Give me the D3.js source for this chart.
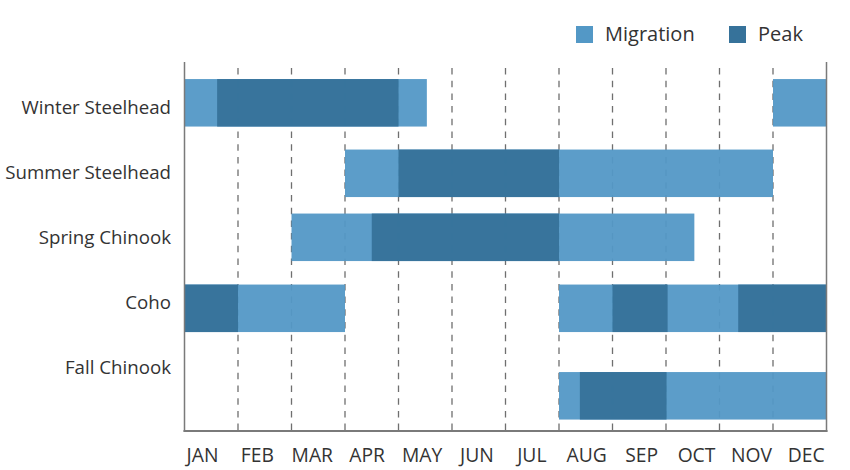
<!DOCTYPE html>
<html>
<head>
<meta charset="utf-8">
<script src="https://cdn.jsdelivr.net/npm/d3@7"></script>
<style>
  html, body { margin: 0; padding: 0; background: #fff; }
  svg { display: block; font-family: "Open Sans", "Noto Sans", sans-serif; }
</style>
</head>
<body>
<svg id="chart" width="850" height="470"></svg>
<script>
// ---- Data ----
const species = ["Winter Steelhead", "Summer Steelhead", "Spring Chinook", "Coho", "Fall Chinook"];
const monthLabels = ["JAN", "FEB", "MAR", "APR", "MAY", "JUN", "JUL", "AUG", "SEP", "OCT", "NOV", "DEC"];
const seriesNames = ["Migration", "Peak"];
// spans in months (0 = start of January, 12 = end of December)
const migrationSpans = [
  ["Winter Steelhead", 0, 4.53], ["Winter Steelhead", 11, 12],
  ["Summer Steelhead", 3, 11],
  ["Spring Chinook", 2, 9.53],
  ["Coho", 0, 3], ["Coho", 7, 12],
  ["Fall Chinook", 7, 12]
];
const peakSpans = [
  ["Winter Steelhead", 0.61, 4],
  ["Summer Steelhead", 4, 7],
  ["Spring Chinook", 3.5, 7],
  ["Coho", 0, 1], ["Coho", 8, 9.03], ["Coho", 10.35, 12],
  ["Fall Chinook", 7.39, 9.01]
];

// ---- Layout / style ----
const colors = { Migration: "#5398c6", Peak: "#36729a" };
const plotLeft = 184.5, plotRight = 826.5, plotTop = 62, plotBottom = 431;
const barH = 47.5;
const barNudge = { "Winter Steelhead": -4.5, "Summer Steelhead": 1, "Spring Chinook": 0, "Coho": 6, "Fall Chinook": 28.5 };

const svg = d3.select("#chart");

const x = d3.scaleLinear().domain([0, 12]).range([plotLeft, plotRight]);
const yLabel = d3.scalePoint().domain(species).range([107.3, 367.3]);
const xLabel = d3.scalePoint().domain(monthLabels).range([202.5, 806.3]);

// gridlines (behind bars)
svg.append("g").selectAll("line")
  .data(d3.range(1, 12))
  .join("line")
  .attr("x1", d => x(d)).attr("x2", d => x(d))
  .attr("y1", 68).attr("y2", plotBottom)
  .attr("stroke", "#6f6f6f")
  .attr("stroke-width", 1.3)
  .attr("stroke-dasharray", "6.5,6.2");

function drawSpans(spans, color) {
  svg.append("g").selectAll("rect")
    .data(spans)
    .join("rect")
    .attr("x", d => x(d[1]))
    .attr("width", d => x(d[2]) - x(d[1]))
    .attr("y", d => yLabel(d[0]) + barNudge[d[0]] - barH / 2)
    .attr("height", barH)
    .attr("fill", color)
    .attr("fill-opacity", 0.95);
}
drawSpans(migrationSpans, colors.Migration);
drawSpans(peakSpans, colors.Peak);

// axes frame
const axisColor = "#7a7a7a";
svg.append("line").attr("x1", plotLeft).attr("x2", plotLeft).attr("y1", plotTop).attr("y2", plotBottom + 1)
  .attr("stroke", axisColor).attr("stroke-width", 1.5);
svg.append("line").attr("x1", plotRight).attr("x2", plotRight).attr("y1", plotTop).attr("y2", plotBottom + 1)
  .attr("stroke", axisColor).attr("stroke-width", 1.5);
svg.append("line").attr("x1", plotLeft - 1).attr("x2", plotRight + 1).attr("y1", plotBottom).attr("y2", plotBottom)
  .attr("stroke", axisColor).attr("stroke-width", 1.8);

// category labels
svg.append("g").selectAll("text")
  .data(species)
  .join("text")
  .attr("x", 171)
  .attr("y", d => yLabel(d))
  .attr("dy", "0.35em")
  .attr("text-anchor", "end")
  .attr("font-size", 18.7)
  .attr("fill", "#333")
  .text(d => d);

// month labels
svg.append("g").selectAll("text")
  .data(monthLabels)
  .join("text")
  .attr("x", d => xLabel(d))
  .attr("y", 462.3)
  .attr("text-anchor", "middle")
  .attr("font-size", 19.3)
  .attr("fill", "#333")
  .text(d => d);

// legend
const legendX = [576, 729];
const lg = svg.append("g").selectAll("g")
  .data(seriesNames)
  .join("g")
  .attr("transform", (d, i) => `translate(${legendX[i]},26)`);
lg.append("rect").attr("width", 17).attr("height", 17).attr("fill", d => colors[d]);
lg.append("text").attr("x", 29).attr("y", 14.7)
  .attr("font-size", 20).attr("fill", "#333").text(d => d);
</script>
</body>
</html>
